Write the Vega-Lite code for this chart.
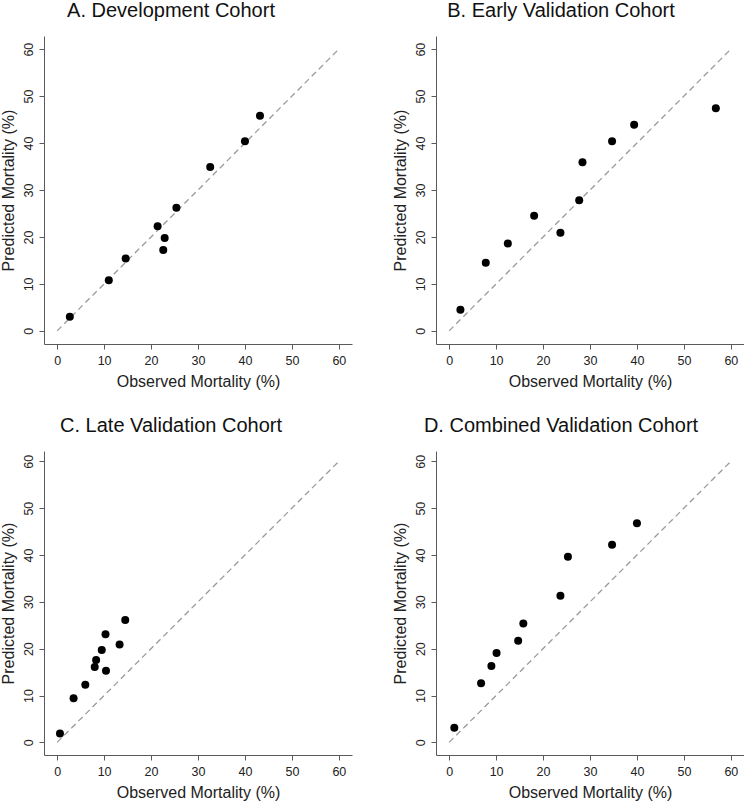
{
  "$schema": "https://vega.github.io/schema/vega-lite/v6.json",
  "background": "white",
  "padding": {"left": 0, "top": 1, "right": 0, "bottom": 0},
  "datasets": {
    "pts": [
      {"panel": "A", "observed": 2.7, "predicted": 3.0},
      {"panel": "A", "observed": 11.0, "predicted": 10.8},
      {"panel": "A", "observed": 14.6, "predicted": 15.4},
      {"panel": "A", "observed": 21.4, "predicted": 22.3},
      {"panel": "A", "observed": 22.9, "predicted": 19.8},
      {"panel": "A", "observed": 22.6, "predicted": 17.2},
      {"panel": "A", "observed": 25.4, "predicted": 26.2},
      {"panel": "A", "observed": 32.6, "predicted": 34.9},
      {"panel": "A", "observed": 40.0, "predicted": 40.4},
      {"panel": "A", "observed": 43.2, "predicted": 45.8},
      {"panel": "B", "observed": 2.4, "predicted": 4.5},
      {"panel": "B", "observed": 7.8, "predicted": 14.5},
      {"panel": "B", "observed": 12.5, "predicted": 18.6},
      {"panel": "B", "observed": 18.1, "predicted": 24.5},
      {"panel": "B", "observed": 23.7, "predicted": 20.9},
      {"panel": "B", "observed": 27.7, "predicted": 27.8},
      {"panel": "B", "observed": 28.4, "predicted": 35.9},
      {"panel": "B", "observed": 34.7, "predicted": 40.4},
      {"panel": "B", "observed": 39.4, "predicted": 43.9},
      {"panel": "B", "observed": 56.8, "predicted": 47.4},
      {"panel": "C", "observed": 0.6, "predicted": 1.9},
      {"panel": "C", "observed": 3.5, "predicted": 9.4},
      {"panel": "C", "observed": 6.0, "predicted": 12.3},
      {"panel": "C", "observed": 8.0, "predicted": 16.1},
      {"panel": "C", "observed": 8.3, "predicted": 17.6},
      {"panel": "C", "observed": 9.5, "predicted": 19.7},
      {"panel": "C", "observed": 10.4, "predicted": 15.3},
      {"panel": "C", "observed": 10.3, "predicted": 23.1},
      {"panel": "C", "observed": 13.3, "predicted": 20.9},
      {"panel": "C", "observed": 14.5, "predicted": 26.1},
      {"panel": "D", "observed": 1.1, "predicted": 3.1},
      {"panel": "D", "observed": 6.8, "predicted": 12.6},
      {"panel": "D", "observed": 9.0, "predicted": 16.3},
      {"panel": "D", "observed": 10.1, "predicted": 19.1},
      {"panel": "D", "observed": 14.7, "predicted": 21.7},
      {"panel": "D", "observed": 15.8, "predicted": 25.4},
      {"panel": "D", "observed": 23.7, "predicted": 31.3},
      {"panel": "D", "observed": 25.3, "predicted": 39.6},
      {"panel": "D", "observed": 34.7, "predicted": 42.2},
      {"panel": "D", "observed": 40.0, "predicted": 46.8}
    ]
  },
  "config": {
    "font": "Liberation Sans",
    "view": {"stroke": null},
    "concat": {"spacing": {"row": 26, "column": 40}},
    "axis": {
      "grid": false,
      "domainColor": "#5a5a5a",
      "tickColor": "#5a5a5a",
      "tickSize": 5,
      "labelFont": "Liberation Sans",
      "labelFontSize": 12.5,
      "labelColor": "#222222",
      "titleFont": "Liberation Sans",
      "titleFontSize": 16,
      "titleFontWeight": "normal",
      "titleColor": "#222222",
      "values": [0, 10, 20, 30, 40, 50, 60]
    },
    "axisX": {"labelPadding": 5, "titlePadding": 7},
    "axisY": {"labelAngle": -90, "labelPadding": 4, "titlePadding": 6},
    "title": {
      "font": "Liberation Sans",
      "fontSize": 20,
      "fontWeight": "normal",
      "color": "#111111",
      "anchor": "middle",
      "frame": "bounds",
      "offset": 15
    }
  },
  "columns": 2,
  "concat": [
    {
      "title": {"text": "A. Development Cohort", "dx": -5},
      "width": 308, "height": 308,
      "layer": [
        {
          "data": {"values": [{}]},
          "mark": {"type": "rule", "color": "#9a9a9a", "strokeDash": [6, 4], "strokeWidth": 1.3},
          "encoding": {
            "x": {"datum": 0, "type": "quantitative", "scale": {"domain": [-2.8, 62.8], "nice": false, "zero": false}, "axis": {"title": "Observed Mortality (%)"}},
            "y": {"datum": 0, "type": "quantitative", "scale": {"domain": [-2.8, 62.8], "nice": false, "zero": false}, "axis": {"title": "Predicted Mortality (%)"}},
            "x2": {"datum": 60},
            "y2": {"datum": 60}
          }
        },
        {
          "data": {"name": "pts"},
          "transform": [{"filter": "datum.panel === 'A'"}],
          "mark": {"type": "circle", "color": "black", "opacity": 1, "size": 64},
          "encoding": {
            "x": {"field": "observed", "type": "quantitative"},
            "y": {"field": "predicted", "type": "quantitative"}
          }
        }
      ]
    },
    {
      "title": {"text": "B. Early Validation Cohort", "dx": -7},
      "width": 308, "height": 308,
      "layer": [
        {
          "data": {"values": [{}]},
          "mark": {"type": "rule", "color": "#9a9a9a", "strokeDash": [6, 4], "strokeWidth": 1.3},
          "encoding": {
            "x": {"datum": 0, "type": "quantitative", "scale": {"domain": [-2.8, 62.8], "nice": false, "zero": false}, "axis": {"title": "Observed Mortality (%)"}},
            "y": {"datum": 0, "type": "quantitative", "scale": {"domain": [-2.8, 62.8], "nice": false, "zero": false}, "axis": {"title": "Predicted Mortality (%)"}},
            "x2": {"datum": 60},
            "y2": {"datum": 60}
          }
        },
        {
          "data": {"name": "pts"},
          "transform": [{"filter": "datum.panel === 'B'"}],
          "mark": {"type": "circle", "color": "black", "opacity": 1, "size": 64},
          "encoding": {
            "x": {"field": "observed", "type": "quantitative"},
            "y": {"field": "predicted", "type": "quantitative"}
          }
        }
      ]
    },
    {
      "title": {"text": "C. Late Validation Cohort", "dx": -5},
      "width": 308, "height": 304,
      "layer": [
        {
          "data": {"values": [{}]},
          "mark": {"type": "rule", "color": "#9a9a9a", "strokeDash": [6, 4], "strokeWidth": 1.3},
          "encoding": {
            "x": {"datum": 0, "type": "quantitative", "scale": {"domain": [-2.8, 62.8], "nice": false, "zero": false}, "axis": {"title": "Observed Mortality (%)"}},
            "y": {"datum": 0, "type": "quantitative", "scale": {"domain": [-2.7, 62.2], "nice": false, "zero": false}, "axis": {"title": "Predicted Mortality (%)"}},
            "x2": {"datum": 60},
            "y2": {"datum": 60}
          }
        },
        {
          "data": {"name": "pts"},
          "transform": [{"filter": "datum.panel === 'C'"}],
          "mark": {"type": "circle", "color": "black", "opacity": 1, "size": 64},
          "encoding": {
            "x": {"field": "observed", "type": "quantitative"},
            "y": {"field": "predicted", "type": "quantitative"}
          }
        }
      ]
    },
    {
      "title": {"text": "D. Combined Validation Cohort", "dx": -7},
      "width": 308, "height": 304,
      "layer": [
        {
          "data": {"values": [{}]},
          "mark": {"type": "rule", "color": "#9a9a9a", "strokeDash": [6, 4], "strokeWidth": 1.3},
          "encoding": {
            "x": {"datum": 0, "type": "quantitative", "scale": {"domain": [-2.8, 62.8], "nice": false, "zero": false}, "axis": {"title": "Observed Mortality (%)"}},
            "y": {"datum": 0, "type": "quantitative", "scale": {"domain": [-2.7, 62.2], "nice": false, "zero": false}, "axis": {"title": "Predicted Mortality (%)"}},
            "x2": {"datum": 60},
            "y2": {"datum": 60}
          }
        },
        {
          "data": {"name": "pts"},
          "transform": [{"filter": "datum.panel === 'D'"}],
          "mark": {"type": "circle", "color": "black", "opacity": 1, "size": 64},
          "encoding": {
            "x": {"field": "observed", "type": "quantitative"},
            "y": {"field": "predicted", "type": "quantitative"}
          }
        }
      ]
    }
  ]
}
